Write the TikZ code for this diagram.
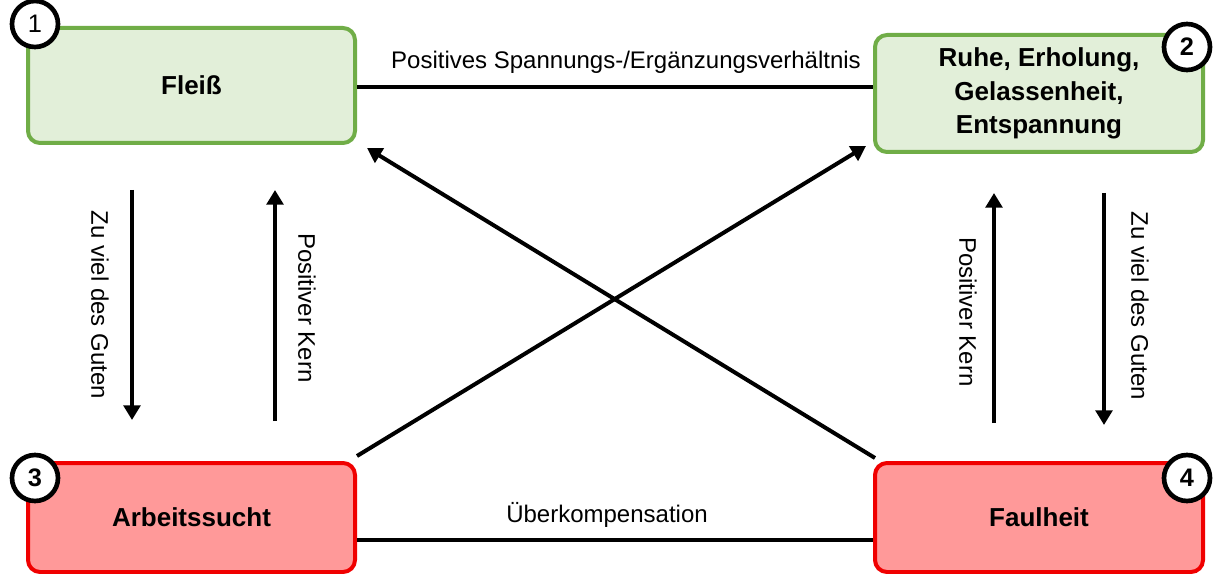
\documentclass[tikz,border=0pt]{standalone}
\usepackage{fontspec}
\setmainfont{Liberation Sans}
\usetikzlibrary{arrows.meta}
\definecolor{gfill}{HTML}{E2EFD9}
\definecolor{gline}{HTML}{70AD47}
\definecolor{rfill}{HTML}{FF9999}
\definecolor{rline}{HTML}{F00000}
\begin{document}
\begin{tikzpicture}[x=0.75pt,y=-0.75pt,
  gbox/.style={draw=gline,fill=gfill,line width=3pt,rounded corners=9pt,minimum width=327*0.75pt,align=center,font=\fontsize{19.5}{25}\selectfont\bfseries,inner sep=0pt},
  rbox/.style={draw=rline,fill=rfill,line width=3pt,rounded corners=9pt,minimum width=327*0.75pt,align=center,font=\fontsize{19.5}{25}\selectfont\bfseries,inner sep=0pt},
  num/.style={circle,draw=black,fill=white,line width=3.5pt,minimum size=46*0.75pt,inner sep=0pt,font=\fontsize{19}{22}\selectfont\bfseries},
  conn/.style={line width=3pt},
  arr/.style={line width=3pt,-{Triangle[width=12.5pt,length=11pt]}},
  lbl/.style={font=\fontsize{18}{21}\selectfont,inner sep=0pt}
]
\useasboundingbox (0,0) rectangle (1221,574);
\node[gbox,minimum height=115*0.75pt] (b1) at (191.5,85.5) {Fleiß};
\node[gbox,minimum height=117*0.75pt,minimum width=328*0.75pt] (b2) at (1039,93.5) {Ruhe, Erholung,\\Gelassenheit,\\Entspannung};
\node[rbox,minimum height=109*0.75pt] (b3) at (191.5,517.5) {Arbeitssucht};
\node[rbox,minimum height=109*0.75pt,minimum width=328*0.75pt] (b4) at (1039,517.5) {Faulheit};
\node[num,font=\fontsize{19}{22}\selectfont] (n1) at (35,24) {1};
\node[num] (n2) at (1187,47) {2};
\node[num] (n3) at (35,478) {3};
\node[num] (n4) at (1187,478) {4};
% horizontal connectors
\draw[conn] (b1.east |- 0,87) coordinate (t1) -- (b2.west |- 0,87) coordinate (t2);
\node[lbl] (tl) at (626,62) {Positives Spannungs-/Ergänzungsverhältnis};
\draw[conn] (b3.east |- 0,540) coordinate (u1) -- (b4.west |- 0,540) coordinate (u2);
\node[lbl] (ul) at (607,515) {Überkompensation};
% vertical arrows
\coordinate (a1s) at (132,190); \coordinate (a1e) at (132,420);
\coordinate (a2s) at (275,421); \coordinate (a2e) at (275,190);
\coordinate (a3s) at (994,423); \coordinate (a3e) at (994,193);
\coordinate (a4s) at (1104,193); \coordinate (a4e) at (1104,425);
\draw[arr] (a1s) -- (a1e);
\draw[arr] (a2s) -- (a2e);
\draw[arr] (a3s) -- (a3e);
\draw[arr] (a4s) -- (a4e);
\node[lbl,rotate=-90] (v1) at (100,305) {Zu viel des Guten};
\node[lbl,rotate=-90] (v2) at (307,308) {Positiver Kern};
\node[lbl,rotate=-90] (v3) at (968,312) {Positiver Kern};
\node[lbl,rotate=-90] (v4) at (1140,306) {Zu viel des Guten};
% diagonals
\coordinate (d1e) at (866,146);
\coordinate (d2e) at (367,148);
\draw[arr] ([shift={(0,-5)}]b3.north east) -- (d1e);
\draw[arr] ([shift={(2,-3)}]b4.north west) -- (d2e);
\end{tikzpicture}
\end{document}
